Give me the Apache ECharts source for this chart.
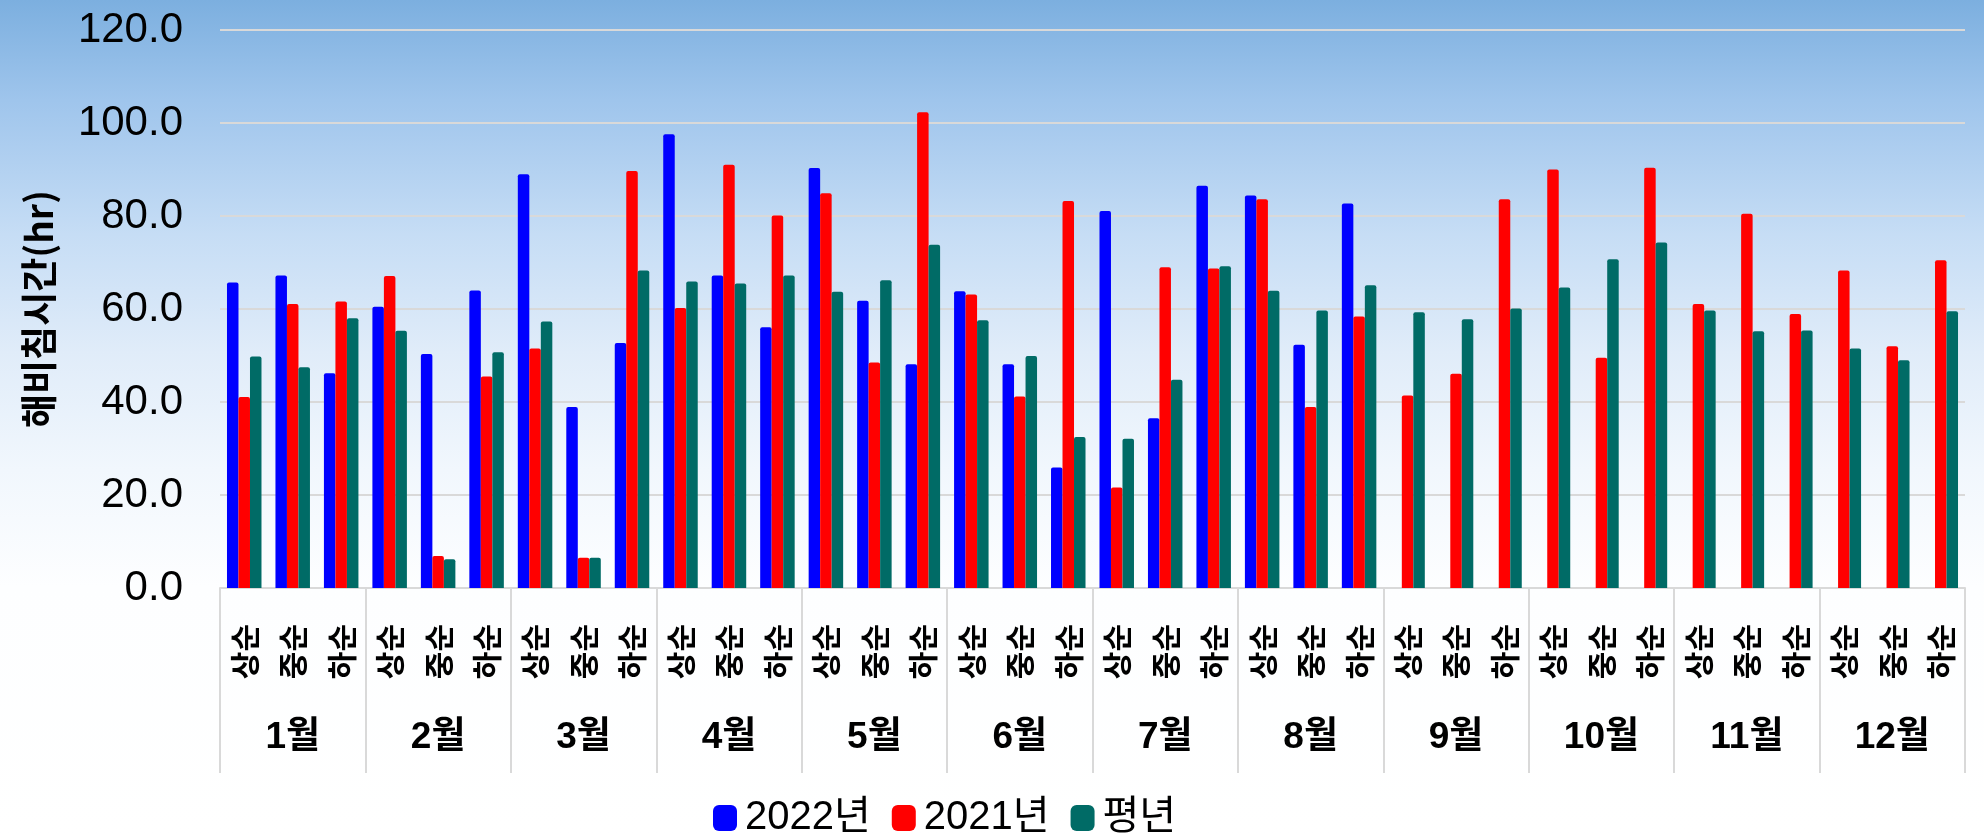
<!DOCTYPE html>
<html>
<head>
<meta charset="utf-8">
<script src="https://cdn.jsdelivr.net/npm/echarts@6/dist/echarts.min.js"></script>
<style>
html,body{margin:0;padding:0;background:#fff;}
#chart{width:1984px;height:838px;}
</style>
</head>
<body>
<div id="chart"></div>
<script>
const months = ['1월','2월','3월','4월','5월','6월','7월','8월','9월','10월','11월','12월'];
const periods = ['상순','중순','하순'];
const categories = [];
months.forEach(function(m){ periods.forEach(function(p){ categories.push(m + ' ' + p); }); });

const seriesNames = ['2022년','2021년','평년'];
const y2022 = [65.7,67.2,46.2, 60.5,50.3,64.0, 89.0,38.9,52.7, 97.6,67.2,56.1,
               90.3,61.8,48.1, 63.8,48.1,25.9, 81.1,36.5,86.5, 84.4,52.3,82.7,
               null,null,null, null,null,null, null,null,null, null,null,null];
const y2021 = [41.1,61.1,61.6, 67.1,6.9,45.5, 51.5,6.5,89.7, 60.2,91.0,80.1,
               84.9,48.5,102.3, 63.1,41.2,83.2, 21.6,69.0,68.7, 83.6,38.9,58.4,
               41.4,46.1,83.6, 90.0,49.5,90.4, 61.1,80.5,58.9, 68.3,52.0,70.5];
const yNormal = [49.8,47.5,58.0, 55.3,6.2,50.7, 57.3,6.5,68.3, 65.9,65.5,67.2,
                 63.7,66.2,73.8, 57.6,49.9,32.5, 32.1,44.8,69.2, 63.9,59.7,65.1,
                 59.3,57.8,60.1, 64.6,70.7,74.3, 59.7,55.2,55.4, 51.5,49.0,59.5];
const yTicks = [0,20,40,60,80,100,120];
const colors = ['#0000FF','#FF0000','#006B66'];

const latin = "'Liberation Sans','Noto Sans CJK KR',sans-serif";
const kr = "'Noto Sans CJK KR','Liberation Sans',sans-serif";

const chart = echarts.init(document.getElementById('chart'));
function bar(name, data, color){
  return {
    name: name, type: 'bar', data: data, xAxisIndex: 0,
    barWidth: 11.5, barGap: '0%',
    itemStyle: { color: color, borderRadius: [2,2,0,0] }
  };
}
chart.setOption({
  backgroundColor: {
    type: 'linear', x: 0, y: 0, x2: 0, y2: 1,
    colorStops: [
      {offset: 0, color: '#7cafdf'},
      {offset: 0.12, color: '#9fc5ec'},
      {offset: 0.28, color: '#c6ddf5'},
      {offset: 0.42, color: '#e0ecf9'},
      {offset: 0.56, color: '#f1f7fd'},
      {offset: 0.7, color: '#fdfeff'},
      {offset: 1, color: '#ffffff'}
    ]
  },
  animation: false,
  color: colors,
  grid: { left: 220, right: 19, top: 30, bottom: 250, containLabel: false },
  legend: {
    data: seriesNames,
    left: 708, top: 793,
    itemWidth: 24, itemHeight: 26, itemGap: 21,
    icon: 'roundRect',
    textStyle: { fontFamily: latin, fontSize: 40, color: '#000', padding: [0,0,0,3] }
  },
  xAxis: [
    {
      type: 'category', data: categories, position: 'bottom',
      axisLine: { show: true, lineStyle: { color: '#d9d9d9', width: 2 } },
      axisTick: { show: false },
      axisLabel: {
        rotate: 90, margin: 36, interval: 0,
        fontFamily: kr, fontSize: 30, fontWeight: 'bold', color: '#000',
        formatter: function(v){ return v.split(' ')[1]; }
      },
      splitLine: { show: false }
    },
    {
      type: 'category', data: months, position: 'bottom', boundaryGap: true,
      axisLine: { show: false },
      axisTick: { show: true, length: 185, alignWithLabel: false, interval: 0,
                  lineStyle: { color: '#d9d9d9', width: 2 } },
      axisLabel: { margin: 131, interval: 0, fontFamily: latin, fontSize: 37, fontWeight: 'bold', color: '#000' },
      splitLine: { show: false }
    }
  ],
  yAxis: {
    type: 'value', min: yTicks[0], max: yTicks[yTicks.length-1], interval: 20,
    name: '해비침시간(hr)', nameLocation: 'middle', nameRotate: 90, nameGap: 163,
    nameTextStyle: { fontFamily: kr, fontSize: 37, fontWeight: 'bold', color: '#000' },
    axisLine: { show: false }, axisTick: { show: false },
    axisLabel: { margin: 37, fontFamily: latin, fontSize: 42, color: '#000',
                 formatter: function(v){ return v.toFixed(1); } },
    splitLine: { lineStyle: { color: '#d9d9d9', width: 2 } }
  },
  series: [
    bar(seriesNames[0], y2022, colors[0]),
    bar(seriesNames[1], y2021, colors[1]),
    bar(seriesNames[2], yNormal, colors[2])
  ]
});
</script>
</body>
</html>
